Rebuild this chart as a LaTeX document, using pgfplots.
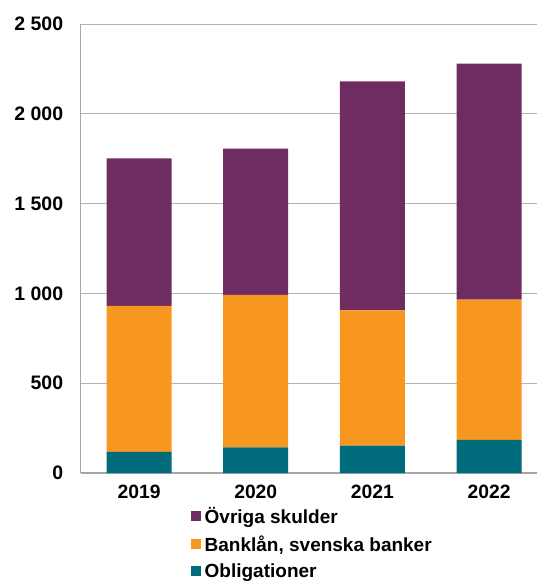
\documentclass[border=0pt]{standalone}
\usepackage{fontspec}
\setmainfont{Liberation Sans}
\usepackage{pgfplots}
\pgfplotsset{compat=1.18}
\definecolor{cpurple}{HTML}{6E2C60}
\definecolor{corange}{HTML}{F7971F}
\definecolor{cteal}{HTML}{006B7A}
\definecolor{cgrid}{HTML}{B3B3B3}
\definecolor{caxis}{HTML}{A6A6A6}
\begin{document}
\begin{tikzpicture}
\useasboundingbox (0pt,0pt) rectangle (537pt,582pt);
\clip (0pt,0pt) rectangle (537pt,582pt);
\begin{axis}[
  at={(80.7pt,109pt)}, anchor=south west,
  scale only axis, width=466.8pt, height=449pt,
  ybar stacked, bar width=65pt,
  xmin=-0.5, xmax=3.5, ymin=0, ymax=2500,
  axis x line*=bottom, axis y line*=left,
  axis line style={draw=caxis, line width=1.3pt},
  xtick={0,1,2,3}, xticklabels={2019,2020,2021,2022},
  major x tick style={draw=none},
  extra x ticks={-0.5,0.5,1.5,2.5,3.5}, extra x tick labels={},
  extra x tick style={grid=none, major tick length=6pt, tick align=outside, tick style={draw=caxis, line width=1pt}},
  ytick={0,500,1000,1500,2000,2500},
  yticklabels={0,500,1 000,1 500,2 000,2 500},
  ytick style={draw=none},
  ymajorgrids, grid style={draw=cgrid, line width=1pt},
  yticklabel style={font=\bfseries\fontsize{19.5}{20}\selectfont, anchor=east, xshift=-14pt},
  xticklabel style={font=\bfseries\fontsize{19.3}{20}\selectfont, yshift=-8pt},
  reverse legend,
  legend image code/.code={\fill[#1] (0pt,-5pt) rectangle (10pt,5pt);},
  legend style={at={(0.2298,-0.0685)}, anchor=north west, draw=none, fill=none,
    font=\bfseries\fontsize{19}{20}\selectfont, row sep=9pt, cells={anchor=west},
    nodes={inner xsep=3.5pt, inner ysep=1pt}},
  legend cell align=left,
]
\addplot[fill=cteal, draw=none] coordinates {(0,118) (1,143) (2,152) (3,184)};
\addplot[fill=corange, draw=none] coordinates {(0,812) (1,849) (2,753) (3,782)};
\addplot[fill=cpurple, draw=none] coordinates {(0,822) (1,814) (2,1275) (3,1314)};
\legend{Obligationer, {Banklån, svenska banker}, Övriga skulder}
\end{axis}
\end{tikzpicture}
\end{document}
